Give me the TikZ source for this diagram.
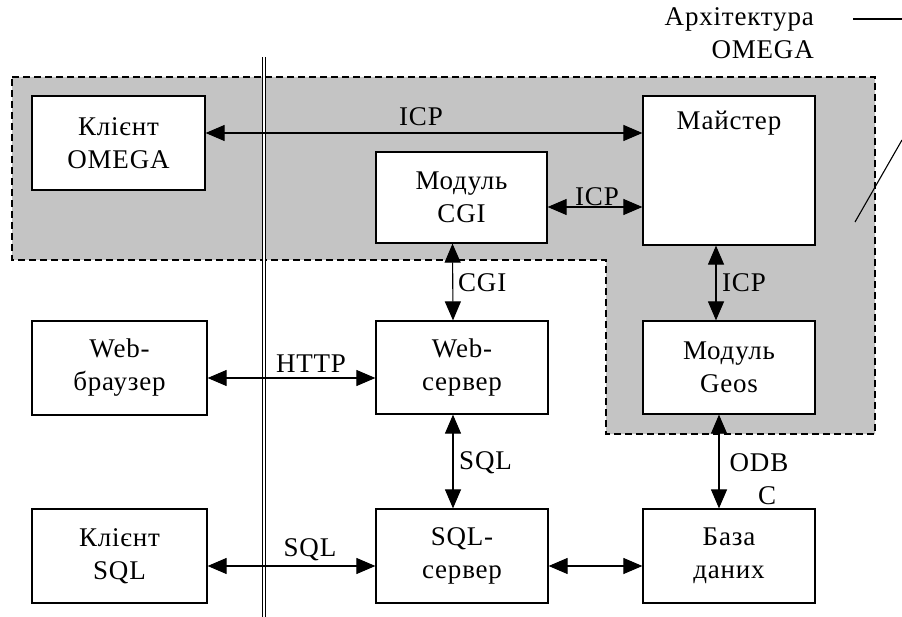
\documentclass[tikz,border=0pt]{standalone}
\usepackage{fontspec}
\setmainfont{Liberation Serif}[LetterSpace=3]
\usetikzlibrary{arrows.meta}
\tikzset{
  box/.style={draw, line width=1.2pt, fill=white, align=center, inner sep=0pt,
    font=\fontsize{27}{33}\selectfont},
  conn/.style={line width=1.1pt, {Triangle[length=19pt,width=16pt]}-{Triangle[length=19pt,width=16pt]}},
  lbl/.style={font=\fontsize{27}{33}\selectfont, inner sep=0pt, align=center},
  region/.style={draw, dash pattern=on 7pt off 4pt, line width=1.2pt, fill=black!23},
  divider/.style={double, double distance=2.6pt, line width=0.8pt},
  leader/.style={line width=1.1pt}
}
\begin{document}
\begin{tikzpicture}[x=1pt,y=-1pt]
\useasboundingbox (0,0) rectangle (902,617);
% shaded area of the OMEGA architecture
\draw[region] (12,77) -- (875,77) -- (875,434) -- (606,434) -- (606,260) -- (12,260) -- cycle;
% boundary between client and server side
\draw[divider] (264,57) -- (264,617);
% caption with its leader lines
\node[lbl, align=right, anchor=north east] (cap) at (814,7) {Архітектура\\OMEGA};
\draw[leader] (853,19) -- (902,19);
\draw[leader] (855,222) -- (902,140);
% components
\node[box, minimum width=173pt, minimum height=94pt] (klom) at (118.5,143) {Клієнт\\OMEGA};
\node[box, minimum width=172pt, minimum height=149pt,
  label={[lbl, anchor=north, yshift=-15pt]north:Майстер}] (maister) at (729,170.5) {};
\node[box, minimum width=171pt, minimum height=91pt] (cgi) at (461.5,197.5) {Модуль\\CGI};
\node[box, minimum width=172pt, minimum height=93pt] (geos) at (729,367.5) {Модуль\\Geos};
\node[box, minimum width=175pt, minimum height=94pt] (brow) at (119.5,368) {Web-\\браузер};
\node[box, minimum width=172pt, minimum height=93pt] (web) at (462,367.5) {Web-\\сервер};
\node[box, minimum width=175pt, minimum height=94pt] (clsql) at (119.5,556) {Клієнт\\SQL};
\node[box, minimum width=172pt, minimum height=94pt] (sqls) at (462,556) {SQL-\\сервер};
\node[box, minimum width=172pt, minimum height=94pt] (db) at (729,556) {База\\даних};
% connections
\draw[conn] ([yshift=10pt]klom.east) -- ([yshift=10pt]klom.east -| maister.west);
\draw[conn] ([yshift=-9.5pt]cgi.east) -- ([yshift=-9.5pt]cgi.east -| maister.west);
\draw[conn] ([xshift=-9pt]cgi.south) -- ([xshift=-9pt]web.north);
\draw[conn] ([xshift=-13pt]maister.south) -- ([xshift=-13pt]geos.north);
\draw[conn] ([yshift=-10pt]brow.east) -- ([yshift=-10pt]brow.east -| web.west);
\draw[conn] ([xshift=-9pt]web.south) -- ([xshift=-9pt]sqls.north);
\draw[conn] ([xshift=-10pt]geos.south) -- ([xshift=-10pt]db.north);
\draw[conn] ([yshift=-10pt]clsql.east) -- ([yshift=-10pt]clsql.east -| sqls.west);
\draw[conn] ([yshift=-10pt]sqls.east) -- ([yshift=-10pt]sqls.east -| db.west);
% protocol labels
\node[lbl] (l1) at (421,117) {ICP};
\node[lbl] (l2) at (597,197) {ICP};
\node[lbl, anchor=west] (l3) at (458,283) {CGI};
\node[lbl, anchor=west] (l4) at (722,283) {ICP};
\node[lbl] (l5) at (311,364) {HTTP};
\node[lbl, anchor=west] (l6) at (459,463) {SQL};
\node[lbl] (l7) at (759,479) {ODB\\\hspace*{16pt}C};
\node[lbl] (l8) at (310,550) {SQL};
\end{tikzpicture}
\end{document}
